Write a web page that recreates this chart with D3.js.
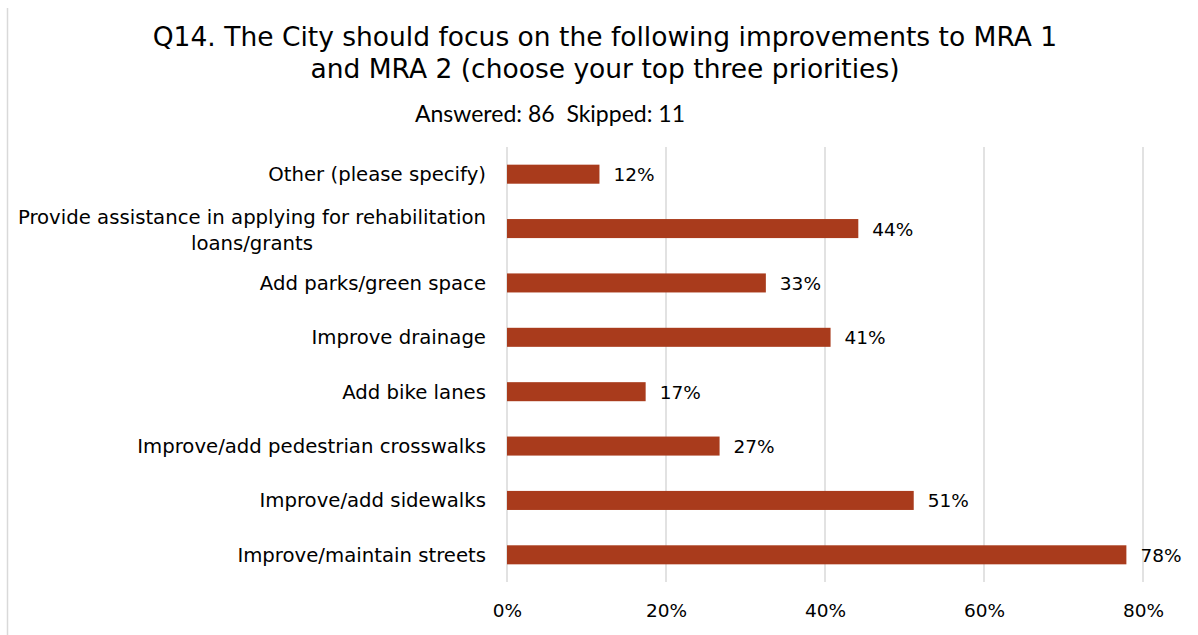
<!DOCTYPE html>
<html>
<head>
<meta charset="utf-8">
<script src="https://cdn.jsdelivr.net/npm/d3@7"></script>
<style>
  body { margin: 0; background: #fff; }
  svg { display: block; }
</style>
</head>
<body>
<div class="graph"></div>
<script>
let categories = [
  "Other (please specify)",
  "Provide assistance in applying for rehabilitation|loans/grants",
  "Add parks/green space",
  "Improve drainage",
  "Add bike lanes",
  "Improve/add pedestrian crosswalks",
  "Improve/add sidewalks",
  "Improve/maintain streets"
];
let values = [11.63, 44.19, 32.56, 40.7, 17.44, 26.74, 51.16, 77.91];
let valueLabels = ["12%", "44%", "33%", "41%", "17%", "27%", "51%", "78%"];
let xTicks = [0, 20, 40, 60, 80];
let titleLines = [
  "Q14. The City should focus on the following improvements to MRA 1",
  "and MRA 2 (choose your top three priorities)"
];
let subtitle = "Answered: 86  Skipped: 11";

let w = 1198;
let h = 635;
let plotLeft = 507, plotRight = 1143, plotTop = 147, plotBottom = 582;
let mainFont = "'DejaVu Sans', Verdana, sans-serif";

let svgvar = d3
  .select(".graph")
  .append("svg")
  .attr("width", w)
  .attr("height", h);

// frame line on the left
svgvar
  .append("line")
  .attr("x1", 7.5).attr("x2", 7.5)
  .attr("y1", 8).attr("y2", h)
  .attr("stroke", "#d9d9d9")
  .attr("stroke-width", 1.5);

svgvar
  .selectAll("text.title")
  .data(titleLines)
  .enter()
  .append("text")
  .attr("class", "title")
  .attr("x", 605)
  .attr("y", function (d, i) { return 46 + i * 32; })
  .attr("text-anchor", "middle")
  .style("font-family", mainFont)
  .style("font-size", "26.5px")
  .style("fill", "#000")
  .text(function (d) { return d; });

svgvar
  .append("text")
  .attr("x", 550)
  .attr("y", 122)
  .attr("text-anchor", "middle")
  .style("font-family", "Lato, 'Open Sans', sans-serif")
  .style("font-size", "23px")
  .style("fill", "#000")
  .style("white-space", "pre")
  .text(subtitle);

let xScale = d3.scaleLinear().domain([0, 80]).range([plotLeft, plotRight]);
let yScale = d3
  .scaleBand()
  .domain(categories)
  .range([plotTop, plotBottom])
  .paddingInner(0.65)
  .paddingOuter(0.325);

// gridlines
svgvar
  .append("g")
  .selectAll("line")
  .data(xTicks)
  .enter()
  .append("line")
  .attr("x1", function (d) { return xScale(d); })
  .attr("x2", function (d) { return xScale(d); })
  .attr("y1", plotTop)
  .attr("y2", plotBottom)
  .attr("stroke", "#d9d9d9")
  .attr("stroke-width", 1.5);

let xAxis = d3
  .axisBottom(xScale)
  .tickValues(xTicks)
  .tickSize(0)
  .tickPadding(0)
  .tickFormat(function (d) { return d + "%"; });

let gx = svgvar
  .append("g")
  .attr("id", "x-axis")
  .attr("transform", "translate(0," + plotBottom + ")")
  .call(xAxis);
gx.select(".domain").remove();
gx.selectAll("text")
  .attr("y", 35)
  .attr("dy", 0)
  .style("font-family", mainFont)
  .style("font-size", "18.5px")
  .style("fill", "#000");

// category labels
let labels = svgvar
  .append("g")
  .selectAll("text")
  .data(categories)
  .enter()
  .append("text")
  .attr("text-anchor", "middle")
  .style("font-family", mainFont)
  .style("font-size", "19.7px")
  .style("fill", "#000");

labels.each(function (d) {
  let parts = d.split("|");
  let cy = yScale(d) + yScale.bandwidth() / 2;
  let t = d3.select(this);
  if (parts.length === 1) {
    t.attr("text-anchor", "end")
      .attr("x", 486)
      .attr("y", cy + 7)
      .text(d);
  } else {
    // multi-line label: centred block, right edge at 486
    let spans = parts.map(function (p, i) {
      return t.append("tspan")
        .attr("y", cy - 5 + i * 26)
        .text(p);
    });
    let widest = d3.max(spans, function (s) { return s.node().getComputedTextLength(); });
    spans.forEach(function (s) { s.attr("x", 486 - widest / 2); });
  }
});

// bars
svgvar
  .append("g")
  .selectAll("rect")
  .data(values)
  .enter()
  .append("rect")
  .attr("x", xScale(0))
  .attr("y", function (d, i) { return yScale(categories[i]); })
  .attr("width", function (d) { return xScale(d) - xScale(0); })
  .attr("height", yScale.bandwidth())
  .style("fill", "#a93b1c");

// value labels
svgvar
  .append("g")
  .selectAll("text")
  .data(values)
  .enter()
  .append("text")
  .attr("x", function (d) { return xScale(d) + 14; })
  .attr("y", function (d, i) { return yScale(categories[i]) + yScale.bandwidth() / 2 + 7; })
  .style("font-family", mainFont)
  .style("font-size", "18.5px")
  .style("fill", "#000")
  .text(function (d, i) { return valueLabels[i]; });
</script>
</body>
</html>
